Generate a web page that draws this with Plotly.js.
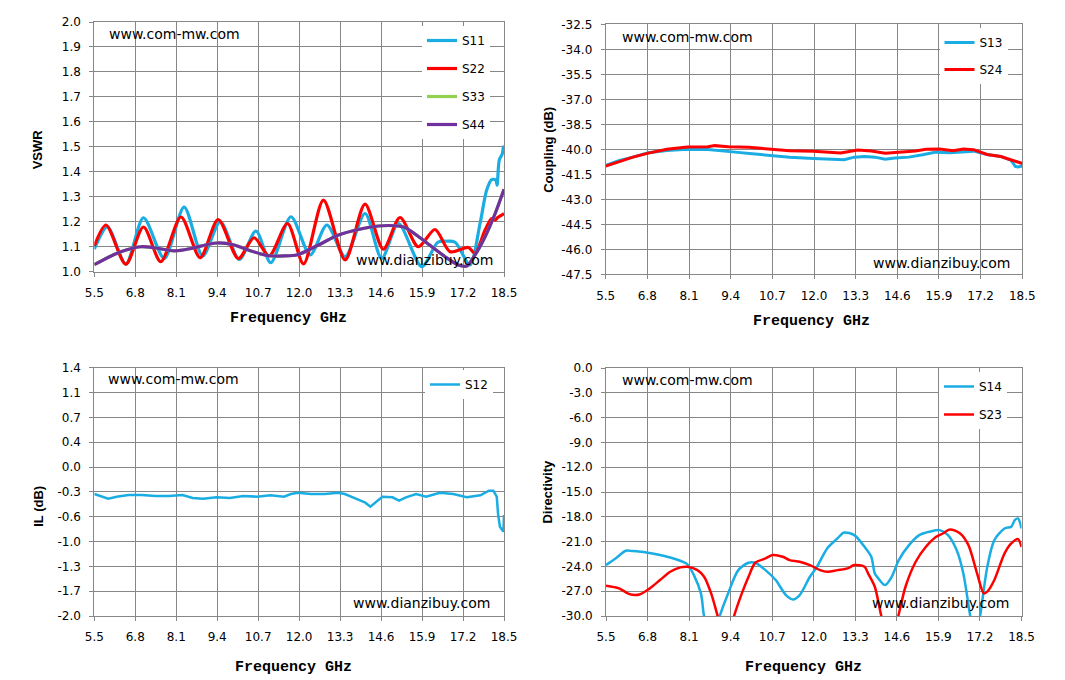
<!DOCTYPE html>
<html>
<head>
<meta charset="utf-8">
<script src="https://cdn.plot.ly/plotly-3.0.1.min.js"></script>
<style>
  html, body { margin: 0; padding: 0; background: #fff; }
  #chart { width: 1065px; height: 680px; }
</style>
</head>
<body>
<div id="chart"></div>
<script>
// ---- VSWR (top left) ----
const s11Freq = [5.5, 5.92, 6.5, 7.06, 7.72, 8.35, 8.94, 9.5, 10.1, 10.63, 11.1, 11.74, 12.35, 12.88, 13.46, 14.09, 14.62, 15.15, 15.89, 16.4, 16.68, 16.95, 17.42, 17.74, 17.95, 18.11, 18.24, 18.28, 18.35, 18.45, 18.48, 18.5];
const s11Vswr = [1.09, 1.179, 1.03, 1.216, 1.053, 1.259, 1.063, 1.2, 1.049, 1.163, 1.036, 1.22, 1.067, 1.187, 1.06, 1.233, 1.053, 1.193, 1.02, 1.118, 1.122, 1.118, 1.027, 1.193, 1.327, 1.369, 1.367, 1.347, 1.447, 1.473, 1.5, 1.47];

const s22Freq = [5.5, 5.87, 6.5, 7.06, 7.61, 8.25, 8.86, 9.43, 10.07, 10.57, 11.05, 11.63, 12.14, 12.77, 13.46, 14.09, 14.67, 15.2, 15.78, 16.31, 16.79, 17.37, 17.58, 17.9, 18.11, 18.22, 18.3, 18.5];
const s22Vswr = [1.103, 1.187, 1.03, 1.179, 1.04, 1.219, 1.056, 1.209, 1.053, 1.136, 1.063, 1.193, 1.031, 1.287, 1.047, 1.271, 1.09, 1.217, 1.1, 1.169, 1.08, 1.097, 1.073, 1.167, 1.213, 1.207, 1.217, 1.233];

// S33 lies under S44 in the picture
const s33Freq = [5.5, 6.13, 6.56, 6.98, 7.4, 8.04, 8.57, 9.09, 9.41, 9.94, 10.47, 11.0, 11.53, 11.95, 12.61, 13.25, 13.88, 14.52, 15.04, 15.36, 15.79, 16.21, 16.63, 17.05, 17.32, 17.58, 17.9, 18.22, 18.5];
const s33Vswr = [1.028, 1.069, 1.089, 1.1, 1.096, 1.083, 1.093, 1.109, 1.115, 1.107, 1.083, 1.065, 1.063, 1.068, 1.107, 1.147, 1.169, 1.183, 1.184, 1.177, 1.14, 1.1, 1.06, 1.027, 1.023, 1.067, 1.14, 1.233, 1.33];

const s44Freq = [5.5, 6.13, 6.56, 6.98, 7.4, 8.04, 8.57, 9.09, 9.41, 9.94, 10.47, 11.0, 11.53, 11.95, 12.61, 13.25, 13.88, 14.52, 15.04, 15.36, 15.79, 16.21, 16.63, 17.05, 17.32, 17.58, 17.9, 18.22, 18.5];
const s44Vswr = [1.028, 1.069, 1.089, 1.1, 1.096, 1.083, 1.093, 1.109, 1.115, 1.107, 1.083, 1.065, 1.063, 1.068, 1.107, 1.147, 1.169, 1.183, 1.184, 1.177, 1.14, 1.1, 1.06, 1.027, 1.023, 1.067, 1.14, 1.233, 1.33];

// ---- Coupling (top right) ----
const s13Freq = [5.5, 5.93, 6.35, 6.83, 7.41, 8.05, 8.69, 9.11, 9.54, 10.07, 10.6, 11.24, 11.98, 12.52, 12.94, 13.26, 13.58, 13.9, 14.22, 14.53, 14.96, 15.39, 15.81, 16.24, 16.66, 16.98, 17.4, 17.83, 18.15, 18.28, 18.36, 18.5];
const s13Db = [-40.97, -40.67, -40.47, -40.21, -40.07, -39.99, -40.01, -40.07, -40.17, -40.27, -40.37, -40.47, -40.55, -40.57, -40.63, -40.47, -40.43, -40.47, -40.59, -40.52, -40.47, -40.33, -40.17, -40.2, -40.17, -40.11, -40.31, -40.43, -40.67, -41.03, -41.06, -41.0];

const s24Freq = [5.5, 5.93, 6.35, 6.83, 7.41, 8.05, 8.69, 8.9, 9.33, 9.96, 10.6, 11.24, 11.98, 12.52, 12.83, 13.37, 13.79, 14.22, 14.64, 15.17, 15.49, 15.92, 16.34, 16.66, 16.98, 17.4, 17.83, 18.15, 18.5];
const s24Db = [-41.01, -40.75, -40.47, -40.23, -40.0, -39.86, -39.84, -39.78, -39.84, -39.88, -39.98, -40.08, -40.12, -40.16, -40.22, -40.04, -40.1, -40.24, -40.17, -40.1, -40.0, -39.98, -40.08, -39.98, -40.02, -40.31, -40.43, -40.61, -40.85];

// ---- Insertion loss (bottom left) ----
const s12Freq = [5.5, 5.73, 5.94, 6.21, 6.58, 7.01, 7.44, 7.87, 8.3, 8.62, 8.95, 9.38, 9.8, 10.23, 10.66, 11.09, 11.52, 11.74, 11.95, 12.38, 12.81, 13.24, 13.45, 13.78, 14.1, 14.26, 14.42, 14.64, 14.96, 15.17, 15.39, 15.71, 16.03, 16.46, 16.89, 17.32, 17.75, 18.02, 18.16, 18.27, 18.31, 18.37, 18.48, 18.5];
const s12Db = [-0.33, -0.366, -0.394, -0.366, -0.343, -0.343, -0.357, -0.357, -0.343, -0.385, -0.394, -0.375, -0.385, -0.357, -0.366, -0.348, -0.366, -0.33, -0.312, -0.33, -0.33, -0.312, -0.33, -0.389, -0.448, -0.503, -0.448, -0.366, -0.375, -0.421, -0.375, -0.33, -0.366, -0.312, -0.33, -0.375, -0.348, -0.284, -0.284, -0.366, -0.594, -0.777, -0.845, -0.617];

// ---- Directivity (bottom right) ----
const s14Freq = [5.5, 5.8, 6.12, 6.33, 6.76, 7.19, 7.61, 8.04, 8.25, 8.47, 8.57, 8.8, 9.05, 9.32, 9.64, 9.96, 10.17, 10.49, 10.81, 11.13, 11.35, 11.56, 11.88, 12.1, 12.42, 12.74, 12.95, 13.27, 13.59, 13.8, 13.91, 14.02, 14.23, 14.44, 14.66, 14.98, 15.3, 15.62, 15.94, 16.2, 16.47, 16.68, 16.9, 17.05, 17.2, 17.43, 17.65, 17.97, 18.18, 18.29, 18.39, 18.5];
const s14Db = [-23.84, -23.04, -22.11, -22.15, -22.31, -22.63, -23.04, -23.72, -25.05, -27.27, -30.09, -33.5, -30.09, -27.27, -24.45, -23.56, -23.56, -24.45, -25.65, -27.47, -27.99, -27.47, -25.25, -24.04, -21.83, -20.62, -19.9, -20.22, -21.63, -22.84, -24.85, -25.45, -26.26, -25.25, -23.24, -21.43, -20.22, -19.81, -19.61, -20.22, -22.03, -24.85, -30.09, -33.0, -30.09, -24.04, -20.82, -19.41, -19.21, -18.41, -18.2, -19.41];

const s23Freq = [5.5, 5.91, 6.23, 6.55, 6.87, 7.19, 7.51, 7.83, 8.04, 8.36, 8.57, 8.79, 9.0, 9.27, 9.5, 9.75, 9.96, 10.17, 10.49, 10.71, 11.03, 11.24, 11.56, 11.88, 12.2, 12.42, 12.74, 13.06, 13.27, 13.59, 13.7, 13.91, 14.12, 14.39, 14.64, 14.87, 15.19, 15.51, 15.83, 16.04, 16.26, 16.58, 16.84, 17.11, 17.32, 17.43, 17.65, 17.97, 18.18, 18.39, 18.5];
const s23Db = [-26.34, -26.66, -27.35, -27.39, -26.66, -25.65, -24.65, -24.12, -24.04, -24.45, -25.25, -27.27, -30.09, -33.5, -30.09, -27.27, -25.25, -23.56, -23.04, -22.63, -22.84, -23.24, -23.44, -23.84, -24.45, -24.65, -24.45, -24.24, -23.84, -24.04, -24.85, -26.46, -30.09, -33.5, -30.09, -26.46, -23.44, -21.63, -20.42, -20.02, -19.53, -20.02, -21.43, -24.85, -27.27, -27.06, -25.65, -22.43, -21.22, -20.7, -21.63];

// ---- tick labels ----
const vswrTicks = [1.0, 1.1, 1.2, 1.3, 1.4, 1.5, 1.6, 1.7, 1.8, 1.9, 2.0];
const vswrTickText = ['1.0', '1.1', '1.2', '1.3', '1.4', '1.5', '1.6', '1.7', '1.8', '1.9', '2.0'];
const couplingTicks = [-47.5, -46, -44.5, -43, -41.5, -40, -38.5, -37, -35.5, -34, -32.5];
const couplingTickText = ['-47.5', '-46.0', '-44.5', '-43.0', '-41.5', '-40.0', '-38.5', '-37.0', '-35.5', '-34.0', '-32.5'];
const ilTicks = [-2.0, -1.66, -1.32, -0.98, -0.64, -0.3, 0.04, 0.38, 0.72, 1.06, 1.4];
const ilTickText = ['-2.0', '-1.7', '-1.3', '-1.0', '-0.6', '-0.3', '0.0', '0.4', '0.7', '1.1', '1.4'];
const dirTicks = [-30, -27, -24, -21, -18, -15, -12, -9, -6, -3, 0];
const dirTickText = ['-30.0', '-27.0', '-24.0', '-21.0', '-18.0', '-15.0', '-12.0', '-9.0', '-6.0', '-3.0', '0.0'];

const BLUE = '#1AADE3', RED = '#FF0000', GREEN = '#92D050', PURPLE = '#7030A0';
const W = 1065, H = 680;
const px = x => x / W;
const py = y => 1 - y / H;

function curve(x, y, name, color, axes, legend, width, smooth) {
  return {
    type: 'scatter', mode: 'lines', x: x, y: y, name: name,
    xaxis: axes[0], yaxis: axes[1], legend: legend, legendgroup: name,
    line: smooth ? { color: color, width: width, shape: 'spline', smoothing: 0.8 }
                 : { color: color, width: width },
    hoverinfo: 'skip'
  };
}

const traces = [
  curve(s11Freq, s11Vswr, 'S11', BLUE, ['x', 'y'], 'legend', 3.2, true),
  curve(s22Freq, s22Vswr, 'S22', RED, ['x', 'y'], 'legend', 3.2, true),
  curve(s33Freq, s33Vswr, 'S33', GREEN, ['x', 'y'], 'legend', 3.2, true),
  curve(s44Freq, s44Vswr, 'S44', PURPLE, ['x', 'y'], 'legend', 3.2, true),
  curve(s13Freq, s13Db, 'S13', BLUE, ['x2', 'y2'], 'legend2', 3, false),
  curve(s24Freq, s24Db, 'S24', RED, ['x2', 'y2'], 'legend2', 3, false),
  curve(s12Freq, s12Db, 'S12', BLUE, ['x3', 'y3'], 'legend3', 2.5, false),
  curve(s14Freq, s14Db, 'S14', BLUE, ['x4', 'y4'], 'legend4', 2.5, true),
  curve(s23Freq, s23Db, 'S23', RED, ['x4', 'y4'], 'legend4', 2.5, true)
];

const GRID = '#878787';
const tickFont = { family: 'DejaVu Sans', size: 12, color: '#000' };

function xAxis(left, right, anchor) {
  return {
    domain: [px(left), px(right)], anchor: anchor,
    range: [5.5, 18.5], tick0: 5.5, dtick: 1.3, tickformat: '.1f',
    showgrid: true, gridcolor: GRID, gridwidth: 1, zeroline: false,
    showline: true, linecolor: GRID, linewidth: 1, mirror: true,
    ticks: 'outside', ticklen: 4, tickcolor: GRID, ticklabelstandoff: 6,
    tickfont: tickFont, fixedrange: true
  };
}

function yAxis(bottom, top, anchor, range, vals, text) {
  return {
    domain: [py(bottom), py(top)], anchor: anchor,
    range: range, tickvals: vals, ticktext: text,
    showgrid: true, gridcolor: GRID, gridwidth: 1, zeroline: false,
    showline: true, linecolor: GRID, linewidth: 1, mirror: true,
    ticks: 'outside', ticklen: 4, tickcolor: GRID, ticklabelstandoff: 6,
    tickfont: tickFont, fixedrange: true
  };
}

function legendAt(left, top, gap) {
  return {
    x: px(left), y: py(top), xanchor: 'left', yanchor: 'top',
    bgcolor: '#fff', borderwidth: 0, tracegroupgap: gap, traceorder: 'grouped',
    font: { family: 'DejaVu Sans', size: 12, color: '#000' }
  };
}

const wmFont = { family: 'DejaVu Sans', size: 14, color: '#000' };
const xtFont = { family: 'Liberation Mono', size: 15, color: '#000', weight: 'bold' };
const ytFont = { family: 'Liberation Sans', size: 13, color: '#000', weight: 'bold' };

function note(text, x, y, xanchor, font, angle) {
  return {
    text: text, xref: 'paper', yref: 'paper', x: px(x), y: py(y),
    xanchor: xanchor, yanchor: 'middle', showarrow: false,
    font: font, textangle: angle || 0
  };
}

const annotations = [
  note('www.com-mw.com', 107.4, 34, 'left', wmFont),
  note('www.dianzibuy.com', 494.8, 260, 'right', wmFont),
  note('www.com-mw.com', 620, 37.3, 'left', wmFont),
  note('www.dianzibuy.com', 1012, 263.3, 'right', wmFont),
  note('www.com-mw.com', 105.5, 379.3, 'left', wmFont),
  note('www.dianzibuy.com', 491.5, 603.3, 'right', wmFont),
  note('www.com-mw.com', 619.6, 380, 'left', wmFont),
  note('www.dianzibuy.com', 1011.3, 603.3, 'right', wmFont),
  note('Frequency GHz', 288.5, 318, 'center', xtFont),
  note('Frequency GHz', 811, 321.7, 'center', xtFont),
  note('Frequency GHz', 293, 667.3, 'center', xtFont),
  note('Frequency GHz', 803, 667.3, 'center', xtFont),
  note('VSWR', 37.8, 149.5, 'center', ytFont, -90),
  note('Coupling (dB)', 547.8, 150, 'center', ytFont, -90),
  note('IL (dB)', 37.8, 506, 'center', ytFont, -90),
  note('Directivity', 547.3, 491.3, 'center', ytFont, -90)
];

const layout = {
  width: W, height: H,
  margin: { l: 0, r: 0, t: 0, b: 0 },
  paper_bgcolor: '#fff', plot_bgcolor: '#fff',
  showlegend: true,
  xaxis: xAxis(94.3, 504, 'y'),
  yaxis: yAxis(271.7, 22, 'x', [1.0, 2.0], vswrTicks, vswrTickText),
  xaxis2: xAxis(605.7, 1022.3, 'y2'),
  yaxis2: yAxis(274.3, 24.3, 'x2', [-47.5, -32.5], couplingTicks, couplingTickText),
  xaxis3: xAxis(94.3, 504, 'y3'),
  yaxis3: yAxis(616, 367.7, 'x3', [-2.0, 1.4], ilTicks, ilTickText),
  xaxis4: xAxis(606, 1021.5, 'y4'),
  yaxis4: yAxis(616, 368, 'x4', [-30, 0], dirTicks, dirTickText),
  legend: legendAt(422, 26, 9),
  legend2: legendAt(939.5, 28, 8),
  legend3: legendAt(425, 370, 9),
  legend4: legendAt(939, 372, 9),
  annotations: annotations
};

Plotly.newPlot('chart', traces, layout, { displayModeBar: false, staticPlot: true });
</script>
</body>
</html>
